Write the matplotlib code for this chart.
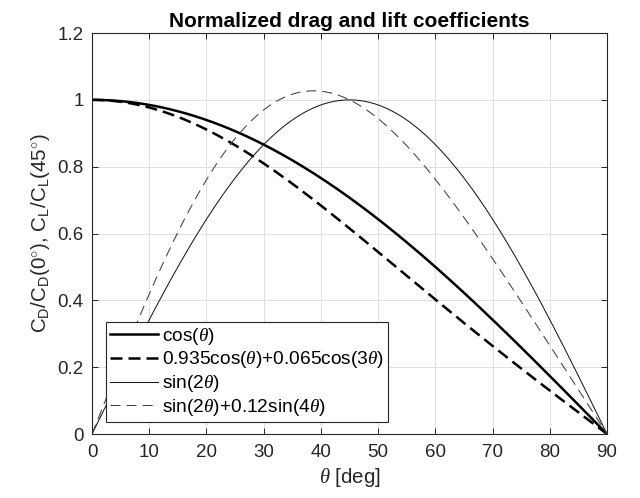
import numpy as np
import matplotlib
matplotlib.use('Agg')
import matplotlib.pyplot as plt

plt.rcParams['font.family'] = ['Liberation Sans', 'DejaVu Sans']
plt.rcParams['mathtext.fontset'] = 'custom'
plt.rcParams['mathtext.rm'] = 'Liberation Sans'
plt.rcParams['mathtext.it'] = 'Liberation Serif:italic'

# angle range and coefficients from the legend expressions
theta_deg = np.linspace(0, 90, 181)
c1, c3 = 0.935, 0.065
a4 = 0.12
th = np.radians(theta_deg)

cd_cos = np.cos(th)
cd_fit = c1*np.cos(th) + c3*np.cos(3*th)
cl_sin = np.sin(2*th)
cl_fit = np.sin(2*th) + a4*np.sin(4*th)

x_ticks = [0, 10, 20, 30, 40, 50, 60, 70, 80, 90]
y_ticks = [0, 0.2, 0.4, 0.6, 0.8, 1, 1.2]
y_labels = ['0', '0.2', '0.4', '0.6', '0.8', '1', '1.2']

fig = plt.figure(figsize=(6.4, 4.98), dpi=100)
ax = fig.add_axes([0.1438, 0.1285, 0.8047, 0.8052])

ax.plot(theta_deg, cd_cos, color='k', lw=1.8, label=r'cos($\it{\theta}$)')
ax.plot(theta_deg, cd_fit, color='k', lw=1.8, ls=(0, (4.8, 2.4)),
        label=r'0.935cos($\it{\theta}$)+0.065cos(3$\it{\theta}$)')
ax.plot(theta_deg, cl_sin, color='#1a1a1a', lw=0.75, label=r'sin(2$\it{\theta}$)')
ax.plot(theta_deg, cl_fit, color='#404040', lw=0.75, ls=(0, (9.6, 5.8)),
        label=r'sin(2$\it{\theta}$)+0.12sin(4$\it{\theta}$)')

ax.set_xlim(0, 90)
ax.set_ylim(0, 1.2)
ax.set_xticks(x_ticks)
ax.set_yticks(y_ticks)
ax.set_yticklabels(y_labels)
ax.tick_params(axis='both', direction='in', top=True, right=True, labelsize=13.5,
               colors='#262626', length=4.5, width=0.7)
ax.tick_params(axis='x', pad=7)
ax.tick_params(axis='y', pad=6)
ax.grid(True, color='#dedede', lw=0.7)
ax.set_axisbelow(True)
for s in ax.spines.values():
    s.set_color('#262626')
    s.set_linewidth(0.8)

ax.set_title('Normalized drag and lift coefficients', fontsize=15,
             fontweight='bold', pad=4)
ax.set_xlabel(r'$\it{\theta}$ [deg]', fontsize=14.8, color='#262626', labelpad=4)
ax.set_ylabel(r'C$\mathregular{_D}$/C$\mathregular{_D}$(0$^{\circ}$), '
              r'C$\mathregular{_L}$/C$\mathregular{_L}$(45$^{\circ}$)',
              fontsize=14.8, color='#262626', labelpad=4)

leg = ax.legend(loc='lower left', bbox_to_anchor=(0.027, 0.03), fontsize=13.8,
                frameon=True, fancybox=False, edgecolor='#262626',
                framealpha=1, borderpad=0.2, labelspacing=0.15,
                handlelength=2.5, handletextpad=0.2, borderaxespad=0)
leg.get_frame().set_linewidth(0.8)

fig.savefig('out.png', dpi=100)
